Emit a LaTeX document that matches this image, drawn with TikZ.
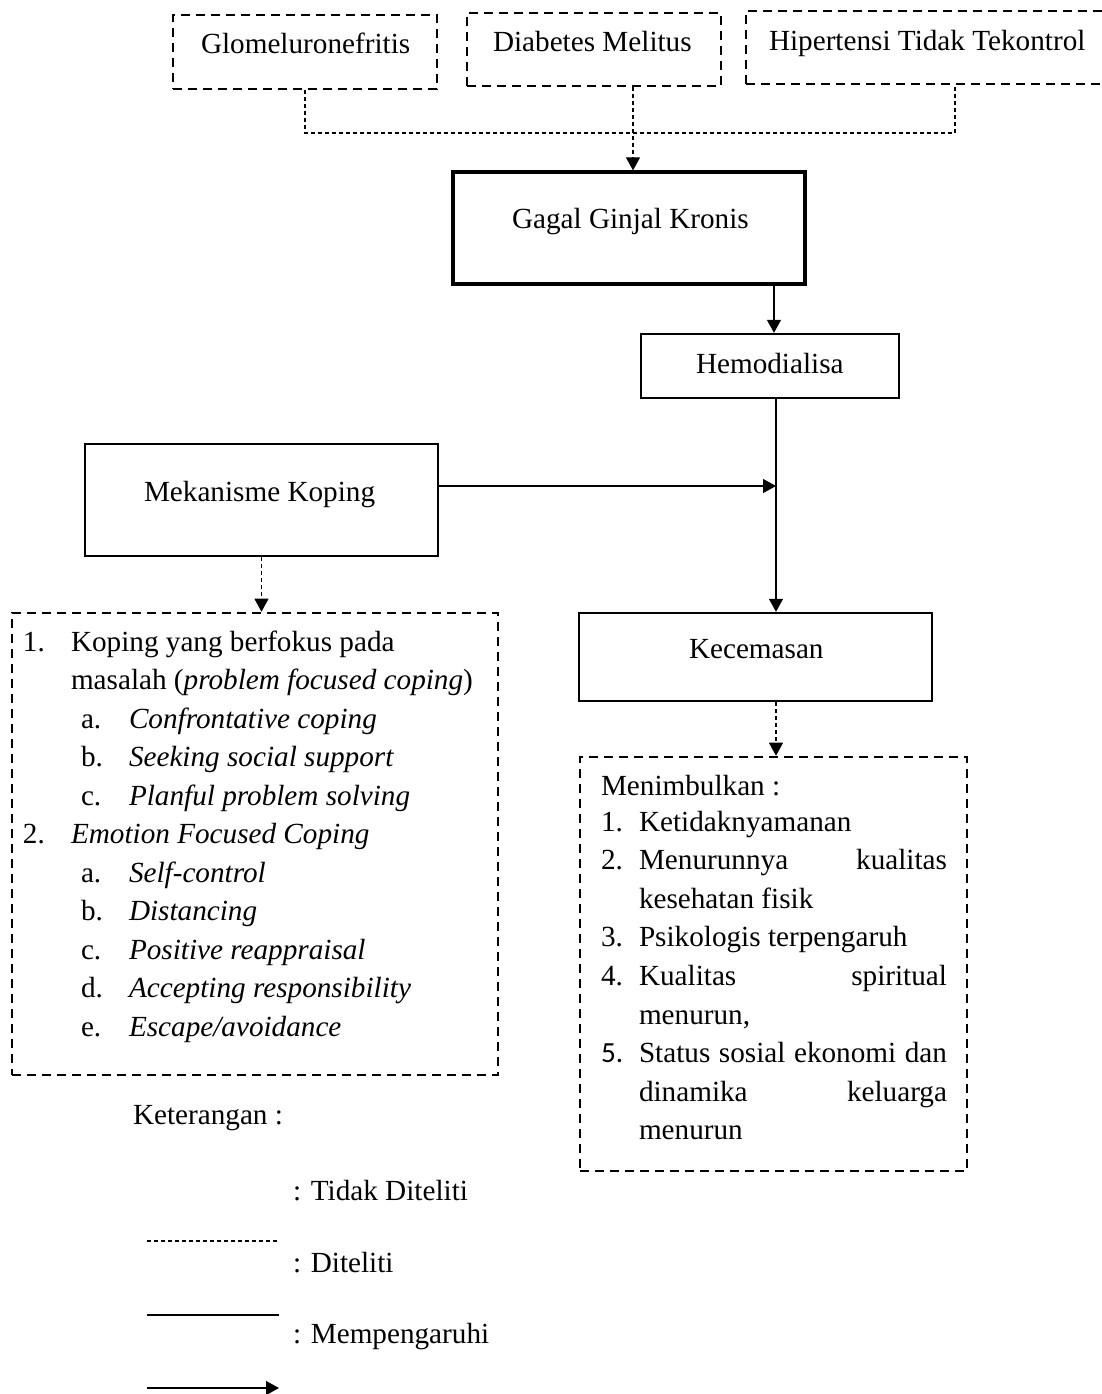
\documentclass[tikz,border=0pt]{standalone}
\usepackage{fontspec}
\setmainfont{Liberation Serif}
\newfontfamily\calfont{Carlito}
\usetikzlibrary{arrows.meta}
\begin{document}
\begin{tikzpicture}[x=0.5pt,y=-0.5pt,
  font=\fontsize{14.6}{17}\selectfont,
  txt/.style={anchor=base west,inner sep=0pt,outer sep=0pt},
  dbox/.style={draw,line width=1.3pt,dash pattern=on 4.5pt off 3pt,inner sep=0pt},
  sbox/.style={draw,line width=1.2pt,inner sep=0pt},
  gbox/.style={draw,line width=1.6pt,inner sep=0pt},
  thindash/.style={line width=0.55pt,dash pattern=on 2pt off 1.5pt},
  conn/.style={line width=0.65pt},
  tip/.style={-{Triangle[length=6.5pt,width=7pt]}},
]
\useasboundingbox (0,0) rectangle (1102,1394);

% boxes
\node[dbox,minimum width=132pt,minimum height=37pt] (glom) at (305,52) {};
\node[dbox,minimum width=127pt,minimum height=36.5pt] (diab) at (594,49.5) {};
\node[dbox,minimum width=187pt,minimum height=36.5pt] (hip) at (933,47.5) {};
\node[gbox,minimum width=176pt,minimum height=56pt] (gagal) at (629,228) {};
\node[sbox,minimum width=129pt,minimum height=32pt] (hemo) at (770,366) {};
\node[sbox,minimum width=176.5pt,minimum height=56pt] (mek) at (261.5,500) {};
\node[dbox,minimum width=243pt,minimum height=231pt] (lbox) at (255,844) {};
\node[sbox,minimum width=176.5pt,minimum height=44pt] (kec) at (755.5,657) {};
\node[dbox,minimum width=193.5pt,minimum height=207pt] (rbox) at (773.5,964) {};

% box texts
\node[txt] (tglom) at (201,53) {Glomeluronefritis};
\node[txt] (tdiab) at (493,51) {Diabetes Melitus};
\node[txt] (thip) at (769,50) {Hipertensi Tidak Tekontrol};
\node[txt] (tgagal) at (512,228) {Gagal Ginjal Kronis};
\node[txt] (themo) at (696,373) {Hemodialisa};
\node[txt] (tmek) at (144,501) {Mekanisme Koping};
\node[txt] (tkec) at (689,658) {Kecemasan};

% helper coordinates
\coordinate (xhip) at (955,0);
\coordinate (xdiab) at (633,0);
\coordinate (jtop) at (305,133);
\coordinate (x774) at (774,0);
\coordinate (x776) at (776,0);
\coordinate (jn) at (776,486);

% connectors
\draw[thindash] (glom.south) -- (jtop) -| (hip.south -| xhip);
\draw[thindash,tip] (diab.south -| xdiab) -- (gagal.north -| xdiab);
\draw[conn,tip] (gagal.south -| x774) -- (hemo.north -| x774);
\draw[conn,tip] (hemo.south -| x776) -- (kec.north -| x776);
\draw[conn,tip] (mek.east |- jn) -- (jn);
\draw[thindash,tip] (mek.south) -- (lbox.north -| mek.south);
\draw[thindash,tip] (kec.south -| x776) -- (rbox.north -| x776);

% left list
\node[txt] (l1n) at (23,651) {1.};
\node[txt] (l1) at (71,651) {Koping yang berfokus pada};
\node[txt] (l1b) at (71,689.5) {masalah (\textit{problem focused coping})};
\node[txt] (l1an) at (81,728) {a.};
\node[txt] (l1a) at (129,728) {\textit{Confrontative coping}};
\node[txt] (l1bn) at (81,766.5) {b.};
\node[txt] (l1bb) at (129,766.5) {\textit{Seeking social support}};
\node[txt] (l1cn) at (81,805) {c.};
\node[txt] (l1c) at (129,805) {\textit{Planful problem solving}};
\node[txt] (l2n) at (23,843.5) {2.};
\node[txt] (l2) at (71,843.5) {\textit{Emotion Focused Coping}};
\node[txt] (l2an) at (81,882) {a.};
\node[txt] (l2a) at (129,882) {\textit{Self-control}};
\node[txt] (l2bn) at (81,920.5) {b.};
\node[txt] (l2b) at (129,920.5) {\textit{Distancing}};
\node[txt] (l2cn) at (81,959) {c.};
\node[txt] (l2c) at (129,959) {\textit{Positive reappraisal}};
\node[txt] (l2dn) at (81,997.5) {d.};
\node[txt] (l2d) at (129,997.5) {\textit{Accepting responsibility}};
\node[txt] (l2en) at (81,1036) {e.};
\node[txt] (l2e) at (129,1036) {\textit{Escape/avoidance}};

% right list
\node[txt] (rhead) at (601,795) {Menimbulkan :};
\node[txt] (r1n) at (601,831) {1.};
\node[txt] (r1) at (639,831) {Ketidaknyamanan};
\node[txt] (r2n) at (601,869.6) {2.};
\node[txt] (r2) at (639,869.6) {\makebox[154pt][s]{Menurunnya kualitas}};
\node[txt] (r2b) at (639,908.2) {kesehatan fisik};
\node[txt] (r3n) at (601,946.8) {3.};
\node[txt] (r3) at (639,946.8) {Psikologis terpengaruh};
\node[txt] (r4n) at (601,985.4) {4.};
\node[txt] (r4) at (639,985.4) {\makebox[154pt][s]{Kualitas spiritual}};
\node[txt] (r4b) at (639,1024) {menurun,};
\node[txt] (r5n) at (601,1062.6) {{\calfont 5.}};
\node[txt] (r5) at (639,1062.6) {\makebox[154pt][s]{Status sosial ekonomi dan}};
\node[txt] (r5b) at (639,1101.2) {\makebox[154pt][s]{dinamika keluarga}};
\node[txt] (r5c) at (639,1139.8) {menurun};

% legend
\node[txt] (ket) at (133,1124) {Keterangan :};
\node[txt] (lg1) at (293,1200) {: Tidak Diteliti};
\node[txt] (lg2) at (293,1272) {: Diteliti};
\node[txt] (lg3) at (293,1343) {: Mempengaruhi};
\coordinate (d1a) at (147,1241);
\coordinate (d1b) at (279,1241);
\coordinate (d2a) at (147,1315);
\coordinate (d2b) at (279,1315);
\coordinate (d3a) at (147,1388);
\coordinate (d3b) at (279,1388);
\draw[thindash] (d1a) -- (d1b);
\draw[conn] (d2a) -- (d2b);
\draw[conn,tip] (d3a) -- (d3b);
\end{tikzpicture}
\end{document}
